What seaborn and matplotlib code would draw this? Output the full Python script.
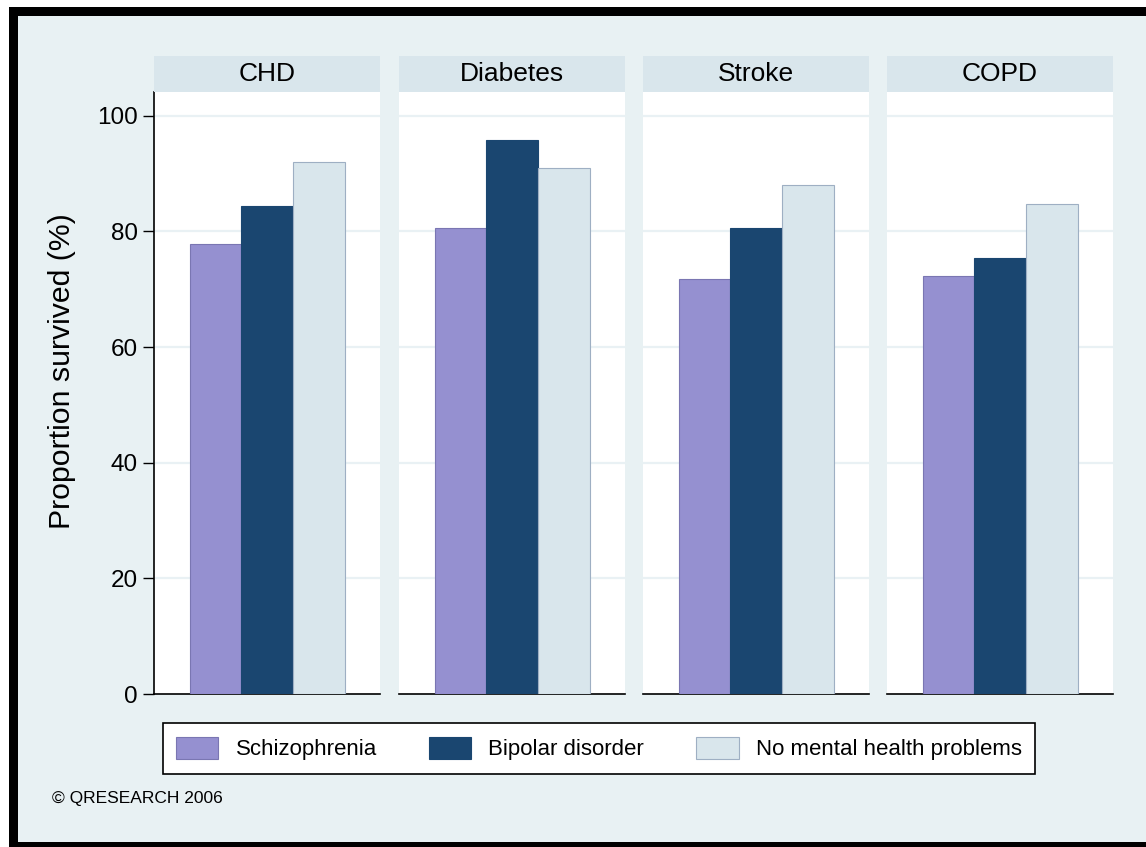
import pandas as pd
import numpy as np
import matplotlib
matplotlib.use("Agg")
import matplotlib.pyplot as plt
import seaborn as sns
from matplotlib.patches import Rectangle, Patch

# data
conditions = ["CHD", "Diabetes", "Stroke", "COPD"]
groups = ["Schizophrenia", "Bipolar disorder", "No mental health problems"]
schizophrenia = [77.8, 80.6, 71.8, 72.3]
bipolar = [84.4, 95.8, 80.6, 75.4]
no_mental = [92.0, 91.0, 88.1, 84.8]
y_ticks = [0, 20, 40, 60, 80, 100]

fill_colors = ["#9590d0", "#1a4670", "#d9e6ec"]
edge_colors = ["#7a76b2", "#1a4670", "#9eafc3"]

rows = []
for i, cond in enumerate(conditions):
    rows.append((cond, groups[0], schizophrenia[i]))
    rows.append((cond, groups[1], bipolar[i]))
    rows.append((cond, groups[2], no_mental[i]))
df = pd.DataFrame(rows, columns=["condition", "group", "value"])

sns.set_theme(style="white")
plt.rcParams["font.family"] = ["Liberation Sans", "DejaVu Sans"]
plt.rcParams["text.color"] = "black"

W, H = 1146, 847
fig = plt.figure(figsize=(W / 100, H / 100), dpi=100)
fig.patch.set_facecolor("white")

# outer black frame and light panel background
fig.patches.append(Rectangle((9 / W, 0), 1, 1 - 7 / H, transform=fig.transFigure,
                             facecolor="black", edgecolor="none", zorder=-10))
fig.patches.append(Rectangle((18 / W, 5 / H), 1, 1 - 16 / H - 5 / H, transform=fig.transFigure,
                             facecolor="#e8f1f3", edgecolor="none", zorder=-9))

panel_left = [154, 399, 643, 887]
panel_w = 226
plot_top, plot_bot = 92, 694
strip_top = 56

for i, cond in enumerate(conditions):
    x0 = panel_left[i]
    ax = fig.add_axes([x0 / W, 1 - plot_bot / H, panel_w / W, (plot_bot - plot_top) / H])
    ax.set_facecolor("white")
    sub = df[df["condition"] == cond]
    sns.barplot(data=sub, x="group", y="value", hue="group", order=groups, hue_order=groups,
                palette=fill_colors, saturation=1, width=1, legend=False, ax=ax, zorder=3)
    for p, g in zip(ax.patches, groups):
        p.set_edgecolor(edge_colors[groups.index(g)])
        p.set_linewidth(0.8)
    ax.set_ylim(0, 104.1)
    ax.set_xlim(-1.19, 3.18)
    for t in y_ticks[1:]:
        ax.axhline(t, color="#e9f1f4", lw=1.6, zorder=1)
    ax.set_xlabel("")
    ax.set_ylabel("")
    ax.set_xticks([])
    for s in ["top", "right"]:
        ax.spines[s].set_visible(False)
    ax.spines["bottom"].set_color("black")
    ax.spines["bottom"].set_linewidth(1.2)
    if i == 0:
        ax.spines["left"].set_color("black")
        ax.spines["left"].set_linewidth(1.2)
        ax.set_yticks(y_ticks)
        ax.tick_params(axis="y", left=True, length=8, width=1, pad=3.5,
                       labelsize=17.5, colors="black")
    else:
        ax.spines["left"].set_visible(False)
        ax.set_yticks([])

    # strip header
    sax = fig.add_axes([x0 / W, 1 - plot_top / H, panel_w / W, (plot_top - strip_top) / H])
    sax.set_facecolor("#d9e6ec")
    sax.set_xticks([])
    sax.set_yticks([])
    for s in sax.spines.values():
        s.set_visible(False)
    sax.text(0.5, 0.5, cond, ha="center", va="center", fontsize=19, color="black",
             transform=sax.transAxes)

fig.text(62 / W, 1 - 371 / H, "Proportion survived (%)", rotation=90,
         ha="center", va="center", fontsize=21.8, color="black")

handles = [Patch(facecolor=fill_colors[k], edgecolor=edge_colors[k], linewidth=0.8, label=groups[k])
           for k in range(3)]
leg = fig.legend(handles=handles, loc="center", ncol=3,
                 bbox_to_anchor=((163 + 1035) / 2 / W, 1 - 748.5 / H),
                 frameon=True, fancybox=False, edgecolor="black", facecolor="white",
                 fontsize=16, labelcolor="black", handlelength=1.9, handleheight=1.2,
                 handletextpad=0.77, columnspacing=2.35, borderpad=0.6, framealpha=1)
leg.get_frame().set_linewidth(1.2)

fig.text(52 / W, 1 - 798 / H, "\u00a9 QRESEARCH 2006", ha="left", va="center",
         fontsize=12.5, color="black")

fig.savefig("out.png", dpi=100, facecolor=fig.get_facecolor())
